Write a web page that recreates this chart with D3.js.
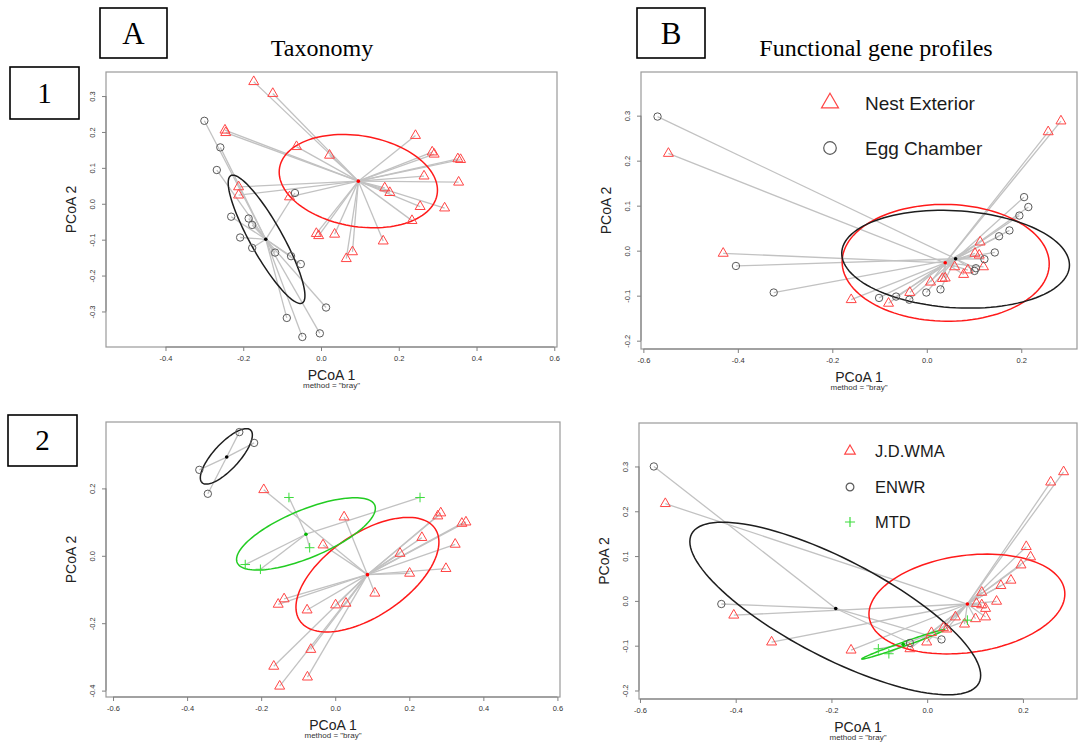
<!DOCTYPE html>
<html>
<head>
<meta charset="utf-8">
<style>
  body { margin: 0; background: #fff; }
  svg { display: block; }
  .serif { font-family: "Liberation Serif", "Times New Roman", serif; fill: #000; }
  .sans { font-family: "Liberation Sans", Arial, sans-serif; }
  .axis-title { font-size: 14px; fill: #222; }
  .method { font-size: 8px; fill: #333; }
</style>
<script src="https://d3js.org/d3.v7.min.js"></script>
</head>
<body>
<div id="viz"></div>
<script>
    // ---- 1A: taxonomy, nest exterior vs egg chamber ----
    var taxSiteNest = [[-0.173,0.340],[-0.124,0.307],[-0.247,0.205],[-0.245,0.198],[-0.063,0.159],
        [0.022,0.135],[0.243,0.190],[0.286,0.144],[0.291,0.138],[0.352,0.125],[0.359,0.123],
        [0.265,0.077],[0.354,0.060],[0.164,0.044],[0.177,0.031],[-0.212,0.047],[-0.212,0.024],
        [-0.081,0.019],[0.255,-0.008],[0.318,-0.012],[0.234,-0.047],[-0.012,-0.083],[-0.006,-0.089],
        [0.035,-0.085],[0.160,-0.104],[0.081,-0.134],[0.065,-0.153]];
    var taxSiteEgg = [[-0.300,0.231],[-0.259,0.157],[-0.268,0.094],[-0.067,0.030],[-0.231,-0.036],
        [-0.186,-0.041],[-0.177,-0.059],[-0.208,-0.094],[-0.177,-0.123],[-0.118,-0.136],
        [-0.077,-0.146],[-0.052,-0.168],[0.013,-0.289],[-0.088,-0.318],[-0.003,-0.361],[-0.048,-0.371]];
    var taxSiteCentroids = [[0.096,0.063],[-0.142,-0.099]];
    // ellipses: cx, cy, var x, var y, cov xy
    var taxSiteEllipses = [[0.096,0.063,0.04143,0.01690,-0.00510],[-0.140,-0.099,0.009736,0.03195,-0.015501]];

    // ---- 1B: functional genes, nest exterior vs egg chamber ----
    var funSiteNest = [[-0.547,0.216],[-0.431,-0.006],[-0.160,-0.109],[-0.081,-0.117],[-0.036,-0.093],
        [0.008,-0.070],[0.033,-0.062],[0.039,-0.061],[0.059,-0.036],[0.078,-0.053],[0.087,-0.043],
        [0.102,-0.006],[0.111,-0.010],[0.113,0.019],[0.120,-0.036],[0.257,0.264],[0.284,0.288]];
    var funSiteEgg = [[-0.570,0.298],[-0.404,-0.034],[-0.324,-0.093],[-0.101,-0.105],[-0.065,-0.102],
        [-0.037,-0.109],[-0.001,-0.093],[0.029,-0.086],[0.101,-0.045],[0.104,-0.039],[0.122,-0.019],
        [0.144,-0.004],[0.153,0.032],[0.175,0.045],[0.196,0.078],[0.206,0.119],[0.215,0.097]];
    var funSiteCentroids = [[0.039,-0.027],[0.061,-0.018]];
    var funSiteEllipses = [[0.040,-0.027,0.04805,0.01685,-0.0005],[0.061,-0.019,0.0581,0.01181,-0.00313]];
    var funSiteLabels = ["Nest Exterior", "Egg Chamber"];

    // ---- 2A: taxonomy by location ----
    var taxLocJd = [[-0.193,0.196],[0.024,0.115],[-0.033,0.032],[0.285,0.127],[0.277,0.118],
        [0.342,0.096],[0.353,0.100],[0.234,0.054],[0.324,0.034],[0.175,0.007],[0.201,-0.052],
        [0.299,-0.038],[0.107,-0.111],[-0.138,-0.128],[-0.154,-0.144],[-0.076,-0.161],[0.001,-0.146],
        [0.029,-0.141],[-0.066,-0.278],[-0.166,-0.328],[-0.075,-0.360],[-0.150,-0.387]];
    var taxLocEnwr = [[-0.259,0.367],[-0.219,0.335],[-0.367,0.255],[-0.344,0.184]];
    var taxLocMtd = [[-0.125,0.173],[0.229,0.173],[-0.069,0.024],[-0.243,-0.026],[-0.202,-0.040]];
    var taxLocCentroids = [[0.087,-0.056],[-0.293,0.293],[-0.079,0.064]];
    var taxLocEllipses = [[0.087,-0.056,0.03726,0.02888,0.01866],[-0.294,0.295,0.004933,0.006768,0.00444],
        [-0.079,0.065,0.03513,0.01153,0.01419]];

    // ---- 2B: functional genes by location ----
    var funLocJd = [[-0.547,0.217],[-0.404,-0.032],[-0.325,-0.092],[-0.159,-0.110],[-0.036,-0.107],
        [-0.001,-0.092],[0.009,-0.071],[0.034,-0.060],[0.041,-0.063],[0.059,-0.036],[0.078,-0.052],
        [0.101,-0.040],[0.103,-0.006],[0.114,-0.009],[0.122,-0.017],[0.122,-0.036],[0.114,0.019],
        [0.145,-0.001],[0.154,0.034],[0.175,0.046],[0.196,0.080],[0.207,0.121],[0.216,0.098],
        [0.258,0.265],[0.285,0.288]];
    var funLocEnwr = [[-0.571,0.300],[-0.430,-0.007],[-0.036,-0.094],[0.030,-0.086]];
    var funLocMtd = [[-0.102,-0.107],[-0.080,-0.118],[0.084,-0.043]];
    var funLocCentroids = [[0.084,-0.007],[-0.191,-0.017],[-0.050,-0.097]];
    var funLocEllipses = [[0.083,-0.007,0.04187,0.01241,0.00459],[-0.192,-0.017,0.09228,0.03710,-0.04533],
        [-0.050,-0.097,0.0075,0.00109,0.002826]];
    var funLocLabels = ["J.D.WMA", "ENWR", "MTD"];

    // tick values
    var taxXTicks = [-0.4, -0.2, 0.0, 0.2, 0.4, 0.6];
    var taxYTicks = [-0.3, -0.2, -0.1, 0.0, 0.1, 0.2, 0.3];
    var funXTicks = [-0.6, -0.4, -0.2, 0.0, 0.2];
    var funYTicks = [-0.2, -0.1, 0.0, 0.1, 0.2, 0.3];
    var taxLocXTicks = [-0.6, -0.4, -0.2, 0.0, 0.2, 0.4, 0.6];
    var taxLocYTicks = [-0.4, -0.2, 0.0, 0.2];

    var styles = {
        red:   { mark: "#ff4545", ell: "#ff1a1a", dot: "#ff0000" },
        black: { mark: "#5a5a5a", ell: "#1e1e1e", dot: "#000000" },
        green: { mark: "#3cdc3c", ell: "#22cc22", dot: "#00b800" }
    };

    var svg = d3.select("#viz").append("svg")
        .attr("width", 1078)
        .attr("height", 742);

    // R-like tick text, plain hyphen for minus
    function fmt(v) {
        var s = Math.abs(v).toFixed(1);
        return (v < -1e-9 ? "-" : "") + s;
    }

    function markPath(shape, k) {
        k = k || 1;
        if (shape === "tri") {
            var s = 10 * k, h = s * Math.sqrt(3) / 2;
            return "M0," + (-2 * h / 3) + "L" + (s / 2) + "," + (h / 3) + "L" + (-s / 2) + "," + (h / 3) + "Z";
        }
        if (shape === "cross") {
            var c = 4.8 * k;
            return "M" + (-c) + ",0H" + c + "M0," + (-c) + "V" + c;
        }
        var r = 3.7 * k;
        return "M" + r + ",0A" + r + "," + r + " 0 1,1 " + (-r) + ",0A" + r + "," + r + " 0 1,1 " + r + ",0";
    }

    function ellipsePoints(e) {
        var l11 = Math.sqrt(e[2]);
        var l21 = e[4] / l11;
        var l22 = Math.sqrt(Math.max(e[3] - l21 * l21, 1e-8));
        return d3.range(0, 121).map(function(i) {
            var t = i / 120 * 2 * Math.PI;
            return [e[0] + l11 * Math.cos(t), e[1] + l21 * Math.cos(t) + l22 * Math.sin(t)];
        });
    }

    var panels = [
        { box: [106, 557, 72, 347], xDomain: [-0.553, 0.607], yDomain: [-0.399, 0.367],
          xTicks: taxXTicks, yTicks: taxYTicks,
          groups: [
            { pts: taxSiteNest, shape: "tri", color: "red", c: taxSiteCentroids[0], e: taxSiteEllipses[0] },
            { pts: taxSiteEgg, shape: "circ", color: "black", c: taxSiteCentroids[1], e: taxSiteEllipses[1] }
          ] },
        { box: [641, 1077, 72, 349], xDomain: [-0.605, 0.318], yDomain: [-0.2185, 0.397],
          xTicks: funXTicks, yTicks: funYTicks,
          groups: [
            { pts: funSiteNest, shape: "tri", color: "red", c: funSiteCentroids[0], e: funSiteEllipses[0] },
            { pts: funSiteEgg, shape: "circ", color: "black", c: funSiteCentroids[1], e: funSiteEllipses[1] }
          ],
          legend: { labels: funSiteLabels, x: 830, textX: 865, ys: [103, 148], size: 19, k: 1.7 } },
        { box: [106, 560, 422, 697], xDomain: [-0.619, 0.607], yDomain: [-0.419, 0.397],
          xTicks: taxLocXTicks, yTicks: taxLocYTicks,
          groups: [
            { pts: taxLocJd, shape: "tri", color: "red", c: taxLocCentroids[0], e: taxLocEllipses[0] },
            { pts: taxLocEnwr, shape: "circ", color: "black", c: taxLocCentroids[1], e: taxLocEllipses[1] },
            { pts: taxLocMtd, shape: "cross", color: "green", c: taxLocCentroids[2], e: taxLocEllipses[2] }
          ] },
        { box: [639, 1077, 423, 699], xDomain: [-0.602, 0.313], yDomain: [-0.219, 0.397],
          xTicks: funXTicks, yTicks: funYTicks,
          groups: [
            { pts: funLocJd, shape: "tri", color: "red", c: funLocCentroids[0], e: funLocEllipses[0] },
            { pts: funLocEnwr, shape: "circ", color: "black", c: funLocCentroids[1], e: funLocEllipses[1] },
            { pts: funLocMtd, shape: "cross", color: "green", c: funLocCentroids[2], e: funLocEllipses[2] }
          ],
          legend: { labels: funLocLabels, x: 850, textX: 875, ys: [451, 487, 522], size: 16.5, k: 1.05 } }
    ];

    panels.forEach(drawPanel);

    // MARK: one PCoA panel
    function drawPanel(p) {
        var g = svg.append("g");
        var x = d3.scaleLinear().domain(p.xDomain).range([p.box[0], p.box[1]]);
        var y = d3.scaleLinear().domain(p.yDomain).range([p.box[3], p.box[2]]);

        g.append("rect")
            .attr("x", p.box[0]).attr("y", p.box[2])
            .attr("width", p.box[1] - p.box[0]).attr("height", p.box[3] - p.box[2])
            .attr("fill", "none").attr("stroke", "#9a9a9a").attr("stroke-width", 1.2);

        // bottom axis
        var xa = g.append("g")
            .attr("transform", "translate(0," + p.box[3] + ")")
            .call(d3.axisBottom(x).tickValues(p.xTicks).tickFormat(fmt).tickSize(4).tickSizeOuter(0).tickPadding(5));
        // left axis
        var ya = g.append("g")
            .attr("transform", "translate(" + p.box[0] + ",0)")
            .call(d3.axisLeft(y).tickValues(p.yTicks).tickFormat(fmt).tickSize(4).tickSizeOuter(0));

        [xa, ya].forEach(function(a) {
            a.attr("font-family", "Liberation Sans, Arial, sans-serif").attr("font-size", 7.5);
            a.select(".domain").remove();
            a.selectAll(".tick line").attr("stroke", "#808080");
            a.selectAll(".tick text").attr("fill", "#333");
        });
        ya.selectAll(".tick text")
            .attr("transform", "rotate(-90)")
            .attr("x", 0).attr("y", -14).attr("dy", "0.35em")
            .attr("text-anchor", "middle");

        // axis lines between first and last tick
        g.append("line")
            .attr("x1", x(p.xTicks[0])).attr("x2", x(p.xTicks[p.xTicks.length - 1]))
            .attr("y1", p.box[3]).attr("y2", p.box[3])
            .attr("stroke", "#808080");
        g.append("line")
            .attr("y1", y(p.yTicks[0])).attr("y2", y(p.yTicks[p.yTicks.length - 1]))
            .attr("x1", p.box[0]).attr("x2", p.box[0])
            .attr("stroke", "#808080");

        // titles
        var cx = (p.box[0] + p.box[1]) / 2;
        g.append("text").attr("class", "sans axis-title")
            .attr("x", cx).attr("y", p.box[3] + 33)
            .attr("text-anchor", "middle").text("PCoA 1");
        g.append("text").attr("class", "sans method")
            .attr("x", cx).attr("y", p.box[3] + 41)
            .attr("text-anchor", "middle").text('method = "bray"');
        g.append("text").attr("class", "sans axis-title")
            .attr("transform", "translate(" + (p.box[0] - 35) + "," + ((p.box[2] + p.box[3]) / 2) + ") rotate(-90)")
            .attr("dy", "0.35em")
            .attr("text-anchor", "middle").text("PCoA 2");

        // spider lines
        p.groups.forEach(function(grp) {
            g.selectAll(null).data(grp.pts).enter().append("line")
                .attr("x1", function(d) { return x(d[0]); })
                .attr("y1", function(d) { return y(d[1]); })
                .attr("x2", x(grp.c[0])).attr("y2", y(grp.c[1]))
                .attr("stroke", "#c2c2c2").attr("stroke-width", 1.3);
        });

        // ellipses
        var line = d3.line()
            .x(function(d) { return x(d[0]); })
            .y(function(d) { return y(d[1]); })
            .curve(d3.curveLinearClosed);
        p.groups.forEach(function(grp) {
            g.append("path")
                .attr("d", line(ellipsePoints(grp.e)))
                .attr("fill", "none")
                .attr("stroke", styles[grp.color].ell)
                .attr("stroke-width", 1.5);
        });

        // sample markers
        p.groups.forEach(function(grp) {
            g.selectAll(null).data(grp.pts).enter().append("path")
                .attr("transform", function(d) { return "translate(" + x(d[0]) + "," + y(d[1]) + ")"; })
                .attr("d", markPath(grp.shape))
                .attr("fill", "none")
                .attr("stroke", styles[grp.color].mark)
                .attr("stroke-width", 1);
        });

        // centroids
        p.groups.forEach(function(grp) {
            g.append("circle")
                .attr("cx", x(grp.c[0])).attr("cy", y(grp.c[1])).attr("r", 1.8)
                .attr("fill", styles[grp.color].dot);
        });

        // legend
        if (p.legend) {
            var L = p.legend;
            p.groups.forEach(function(grp, i) {
                g.append("path")
                    .attr("transform", "translate(" + L.x + "," + L.ys[i] + ")")
                    .attr("d", markPath(grp.shape, L.k))
                    .attr("fill", "none")
                    .attr("stroke", styles[grp.color].mark)
                    .attr("stroke-width", 1.2);
                g.append("text").attr("class", "sans")
                    .attr("x", L.textX).attr("y", L.ys[i])
                    .attr("dy", "0.36em")
                    .attr("font-size", L.size)
                    .attr("fill", "#1a1a1a")
                    .text(L.labels[i]);
            });
        }
    }

    // MARK: panel labels
    var frames = [
        { x: 100, y: 8, w: 67, h: 50, t: "A", size: 31 },
        { x: 637, y: 8, w: 68, h: 50, t: "B", size: 31 },
        { x: 10, y: 67, w: 69, h: 52, t: "1", size: 29 },
        { x: 8, y: 415, w: 69, h: 51, t: "2", size: 29 }
    ];
    frames.forEach(function(f) {
        svg.append("rect")
            .attr("x", f.x).attr("y", f.y).attr("width", f.w).attr("height", f.h)
            .attr("fill", "none").attr("stroke", "#000").attr("stroke-width", 1.6);
        svg.append("text").attr("class", "serif")
            .attr("x", f.x + f.w / 2).attr("y", f.y + f.h / 2)
            .attr("dy", "0.34em")
            .attr("text-anchor", "middle")
            .attr("font-size", f.size)
            .text(f.t);
    });

    svg.append("text").attr("class", "serif")
        .attr("x", 322).attr("y", 56).attr("text-anchor", "middle")
        .attr("font-size", 24).text("Taxonomy");
    svg.append("text").attr("class", "serif")
        .attr("x", 876).attr("y", 56).attr("text-anchor", "middle")
        .attr("font-size", 24).text("Functional gene profiles");
</script>
</body>
</html>
